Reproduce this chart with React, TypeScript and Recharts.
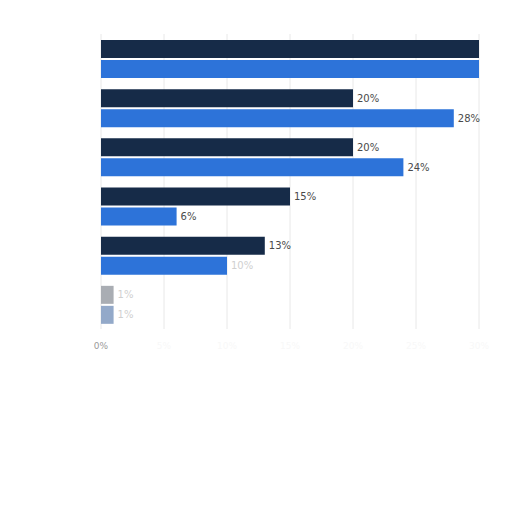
import { BarChart, Bar, XAxis, YAxis, CartesianGrid, LabelList, Cell } from 'recharts'

const categories = ['A', 'B', 'C', 'D', 'E', 'F']
const darkValues = [30, 20, 20, 15, 13, 1]
const blueValues = [30, 28, 24, 6, 10, 1]
const xTicks = [0, 5, 10, 15, 20, 25, 30]

const DARK = '#162b48'
const BLUE = '#2d73d9'
const MAX = 30

const data = categories.map((name, i) => ({ name, dark: darkValues[i], blue: blueValues[i] }))

// last row is washed out in the original
const isFaded = (i: number) => i === categories.length - 1

// labels that would sit past the right edge are cut off in the original
function ValueLabel(props: any) {
  const { x, y, width, height, value, index, series } = props
  if (value >= MAX) return null
  const faint = isFaded(index) || (series === 'blue' && value === 10)
  return (
    <text
      x={x + width + 4}
      y={y + height / 2}
      dy={3.5}
      fontSize={10}
      fontFamily="DejaVu Sans, sans-serif"
      fill={faint ? '#d0d0d0' : '#4a4a4a'}
    >
      {`${value}%`}
    </text>
  )
}

export default function App() {
  return (
    <div style={{ width: 504, height: 400, fontFamily: 'DejaVu Sans, sans-serif' }}>
      <BarChart
        layout="vertical"
        width={504}
        height={400}
        data={data}
        margin={{ top: 26, right: 33, left: 93, bottom: 49 }}
        barSize={18}
        barGap={2}
      >
        <CartesianGrid horizontal={false} stroke="#e8e8e8" />
        <XAxis
          type="number"
          domain={[0, MAX]}
          ticks={xTicks}
          axisLine={false}
          tickLine={false}
          height={30}
          tick={(p: any) => (
            <text
              x={p.x}
              y={p.y + 12}
              textAnchor="middle"
              fontSize={9}
              fill={p.payload.value === 0 ? '#9a9a9a' : '#f8f8f8'}
            >
              {`${p.payload.value}%`}
            </text>
          )}
        />
        <YAxis
          type="category"
          dataKey="name"
          width={0}
          tick={false}
          tickLine={false}
          axisLine={{ stroke: '#8a8a8a' }}
        />
        <Bar dataKey="dark" fill={DARK} isAnimationActive={false}>
          {data.map((d, i) => (
            <Cell key={d.name} fill={isFaded(i) ? '#a9adb3' : DARK} />
          ))}
          <LabelList dataKey="dark" content={(p: any) => <ValueLabel {...p} series="dark" />} />
        </Bar>
        <Bar dataKey="blue" fill={BLUE} isAnimationActive={false}>
          {data.map((d, i) => (
            <Cell key={d.name} fill={isFaded(i) ? '#93a9c9' : BLUE} />
          ))}
          <LabelList dataKey="blue" content={(p: any) => <ValueLabel {...p} series="blue" />} />
        </Bar>
      </BarChart>
    </div>
  )
}
